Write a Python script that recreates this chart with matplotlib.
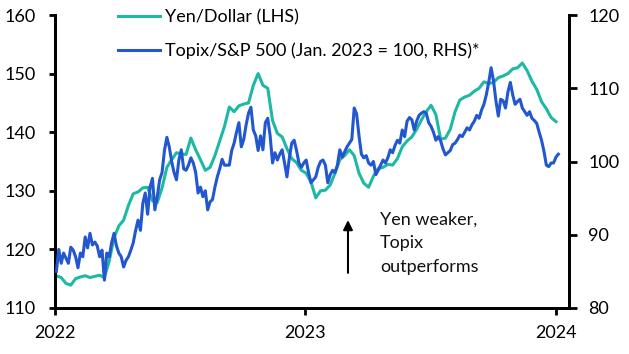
import matplotlib
matplotlib.use("Agg")
import matplotlib.pyplot as plt
import pandas as pd

# ---------------- data ----------------
# Yen per Dollar (LHS), weekly from 3 Jan 2022
yen_dollar = [
    115.5, 115.2, 114.2, 113.9, 115.0, 115.3, 115.5, 115.2, 115.4, 115.6,
    115.2, 118.0, 122.0, 124.0, 125.0, 127.5, 129.5, 129.8, 130.5, 130.6,
    128.3, 128.0, 130.5, 134.0, 135.3, 136.5, 136.3, 136.2, 139.0, 137.0,
    135.3, 133.5, 134.0, 136.0, 138.5, 141.0, 144.3, 143.5, 144.5, 144.8,
    145.0, 148.0, 150.0, 148.0, 147.5, 142.0, 139.8, 139.2, 137.2, 135.5,
    134.8, 133.5, 133.0, 131.5, 128.8, 130.0, 130.1, 131.0, 133.0, 135.3,
    136.0, 137.0, 136.0, 133.0, 131.3, 130.6, 132.5, 133.8, 134.0, 134.5,
    134.4, 135.5, 137.5, 138.5, 139.2, 140.5, 142.1, 143.5, 144.6, 143.0,
    138.8, 139.0, 140.5, 143.5, 145.5, 146.0, 146.3, 147.0, 147.5, 148.6,
    148.3, 148.5, 149.3, 149.6, 150.0, 150.8, 151.0, 151.8, 150.5, 148.7,
    147.3, 145.2, 144.0, 142.5, 141.8,
]

# Topix / S&P 500 (Jan. 2023 = 100, RHS), twice weekly from 3 Jan 2022
topix_sp = [
    85.0, 88.0, 86.1, 87.5, 86.8, 86.1, 88.3, 87.9, 87.0, 85.5,
    87.5, 87.0, 89.7, 88.2, 90.2, 88.6, 89.0, 88.5, 87.0, 87.9,
    83.8, 87.5, 87.0, 88.9, 90.2, 88.5, 87.5, 87.0, 85.6, 86.5,
    87.0, 87.9, 88.9, 90.6, 92.0, 90.6, 94.3, 95.7, 92.8, 96.5,
    97.7, 93.4, 95.2, 97.5, 98.5, 101.5, 103.3, 102.0, 100.0, 98.5,
    97.5, 100.2, 101.6, 99.0, 98.8, 99.5, 100.5, 99.8, 98.5, 95.7,
    96.5, 95.2, 96.0, 93.4, 94.5, 94.8, 96.5, 97.9, 99.0, 100.3,
    99.5, 99.5, 99.5, 101.5, 102.5, 104.0, 105.3, 102.0, 103.0, 105.0,
    106.6, 107.4, 104.3, 103.5, 101.5, 103.5, 101.6, 105.3, 105.9, 103.5,
    99.8, 101.2, 100.2, 101.0, 101.6, 99.8, 97.9, 100.5, 102.5, 102.9,
    101.5, 99.8, 99.2, 99.8, 100.2, 98.5, 97.1, 97.5, 97.9, 99.2,
    100.0, 100.2, 99.5, 97.1, 98.2, 98.8, 98.5, 99.5, 101.6, 100.6,
    101.3, 102.0, 102.5, 103.0, 107.3, 106.5, 103.5, 101.0, 100.5, 100.8,
    99.8, 99.5, 100.0, 98.2, 98.8, 99.5, 100.2, 99.8, 100.5, 101.6,
    101.2, 102.2, 102.9, 102.5, 104.3, 103.4, 105.5, 106.0, 105.7, 104.3,
    105.5, 106.3, 106.6, 106.8, 106.6, 105.3, 104.8, 104.0, 102.9, 103.4,
    102.8, 101.7, 100.9, 101.2, 101.5, 102.3, 102.5, 103.0, 103.6, 103.4,
    104.0, 104.6, 104.3, 105.0, 105.5, 106.3, 105.9, 107.0, 107.8, 109.1,
    110.8, 112.8, 111.0, 108.3, 106.2, 108.5, 108.3, 107.3, 109.5, 110.8,
    109.1, 107.8, 108.2, 108.5, 107.3, 106.8, 106.3, 106.8, 105.9, 105.6,
    105.2, 104.0, 102.9, 101.4, 99.5, 99.3, 99.8, 99.8, 100.6, 101.0,
]

year_ticks = ["2022-01-01", "2023-01-01", "2024-01-01"]
year_labels = ["2022", "2023", "2024"]
left_ticks = [110, 120, 130, 140, 150, 160]
right_ticks = [80, 90, 100, 110, 120]
series_labels = ["Yen/Dollar (LHS)", "Topix/S&P 500 (Jan. 2023 = 100, RHS)*"]
annotation_text = "Yen weaker,\nTopix\noutperforms"

yen_dates = pd.date_range("2022-01-03", periods=len(yen_dollar), freq="7D")
topix_dates = pd.date_range("2022-01-03", periods=len(topix_sp), freq="84h")

# ---------------- style ----------------
TEAL = "#1db9a4"
BLUE = "#2257cf"
FONT = ["Lato", "DejaVu Sans"]
FS = 13
plt.rcParams["font.family"] = FONT

fig = plt.figure(figsize=(6.29, 3.54), dpi=100)
ax = fig.add_axes([55 / 629, 1 - 308 / 354, (569 - 55) / 629, (308 - 15) / 354])
ax2 = ax.twinx()

l1, = ax.plot(yen_dates, yen_dollar, color=TEAL, lw=2.2, label=series_labels[0], zorder=2)
l2, = ax2.plot(topix_dates, topix_sp, color=BLUE, lw=2.2, label=series_labels[1], zorder=3)

ax.set_xlim(pd.Timestamp("2022-01-01"), pd.Timestamp("2024-01-20"))
ax.set_ylim(110, 160)
ax2.set_ylim(80, 120)
ax.set_yticks(left_ticks)
ax2.set_yticks(right_ticks)
ax.set_xticks([pd.Timestamp(d) for d in year_ticks])
ax.set_xticklabels(year_labels)

for a in (ax, ax2):
    a.spines["top"].set_visible(False)
    for s in ("left", "right", "bottom"):
        a.spines[s].set_linewidth(2.0)
        a.spines[s].set_color("black")
    a.set_facecolor("none")

ax.tick_params(axis="y", direction="out", length=4, width=2, pad=10, labelsize=FS)
ax2.tick_params(axis="y", direction="out", length=6, width=2, pad=8, labelsize=FS)
ax.tick_params(axis="x", direction="out", length=5, width=2, pad=7, labelsize=FS)

leg = fig.legend(handles=[l1, l2], loc="upper left",
                 bbox_to_anchor=(118 / 629, 1 - 9 / 354), frameon=False,
                 fontsize=FS, handlelength=2.3, handletextpad=0.3,
                 labelspacing=0.95, borderpad=0, borderaxespad=0)

ax.annotate("", xy=(0.570, 0.30), xytext=(0.570, 0.12), xycoords="axes fraction",
            arrowprops=dict(arrowstyle="-|>", color="black", lw=1.5,
                            mutation_scale=14, shrinkA=0, shrinkB=0))
ax.text(0.632, 0.328, annotation_text, transform=ax.transAxes, ha="left", va="top",
        fontsize=FS, linespacing=1.58, color="#111111")

fig.savefig("out.png", dpi=100)
